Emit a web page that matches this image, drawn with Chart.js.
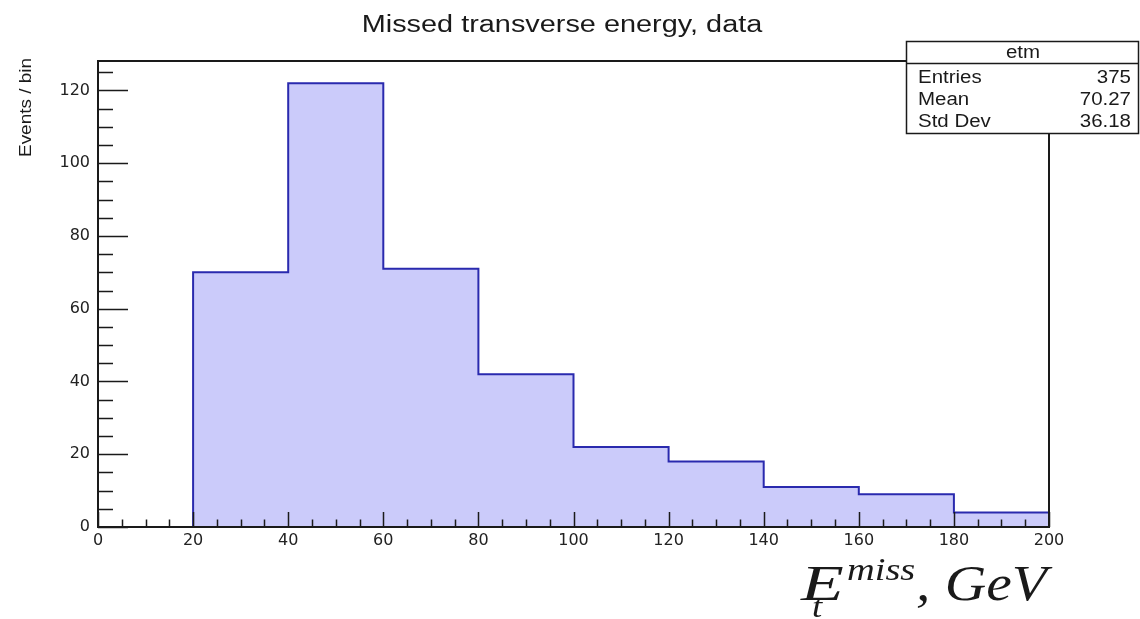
<!DOCTYPE html>
<html>
<head>
<meta charset="utf-8">
<script src="https://cdn.jsdelivr.net/npm/chart.js@4"></script>
<style>
  html, body { margin: 0; padding: 0; background: #fff; }
  #wrap { width: 1140px; height: 619px; }
</style>
</head>
<body>
<div id="wrap"><canvas id="etm" width="1140" height="619"></canvas></div>
<script>
// histogram of missing transverse energy, 20 GeV bins
const binEdges = [20, 40, 60, 80, 100, 120, 140, 160, 180, 200];
const counts = [70, 122, 71, 42, 22, 18, 11, 9, 4];
const statsLabels = ['Entries', 'Mean', 'Std Dev'];
const statsValues = ['375', '70.27', '36.18'];
const xRange = [0, 200];
const yRange = [0, 128.1];

const INK = '#1a1a1a';

// outline of the histogram as a stepped line, closed down to zero at both ends
const points = [{ x: binEdges[0], y: 0 }];
counts.forEach((c, i) => points.push({ x: binEdges[i], y: c }));
points.push({ x: binEdges[binEdges.length - 1], y: counts[counts.length - 1] });
points.push({ x: binEdges[binEdges.length - 1], y: 0 });

// the picture is stretched sideways, so text is drawn with a horizontal scale
function stretchText(ctx, str, x, y, font, sx, align) {
  ctx.save();
  ctx.font = font;
  ctx.textBaseline = 'alphabetic';
  const w = ctx.measureText(str).width * sx;
  let left = x;
  if (align === 'center') left = x - w / 2;
  else if (align === 'right') left = x - w;
  ctx.translate(left, y);
  ctx.scale(sx, 1);
  ctx.textAlign = 'left';
  ctx.fillText(str, 0, 0);
  ctx.restore();
  return w;
}

// ROOT style: inward ticks, major every 20, minor every 5
const rootAxes = {
  id: 'rootAxes',
  afterDatasetsDraw(chart) {
    const { ctx, chartArea: a, scales } = chart;
    ctx.save();
    ctx.strokeStyle = INK;
    ctx.lineWidth = 1.5;
    ctx.beginPath();
    for (let v = yRange[0]; v <= yRange[1]; v += 5) {
      const py = Math.round(scales.y.getPixelForValue(v)) + 0.5;
      const len = v % 20 === 0 ? 30 : 15;
      ctx.moveTo(a.left, py);
      ctx.lineTo(a.left + len, py);
    }
    for (let v = xRange[0]; v <= xRange[1]; v += 5) {
      const px = Math.round(scales.x.getPixelForValue(v)) + 0.5;
      const len = v % 20 === 0 ? 15 : 7.5;
      ctx.moveTo(px, a.bottom);
      ctx.lineTo(px, a.bottom - len);
    }
    ctx.stroke();
    // frame
    ctx.lineWidth = 2;
    ctx.strokeRect(a.left, a.top, a.right - a.left, a.bottom - a.top);
    ctx.restore();
  },
  afterDraw(chart) {
    const { ctx } = chart;
    ctx.save();
    ctx.fillStyle = INK;

    // title
    stretchText(ctx, 'Missed transverse energy, data', 562, 32,
      '23px "Liberation Sans", Arial, sans-serif', 1.255, 'center');

    // y axis title, rotated, aligned to the top of the axis
    ctx.save();
    ctx.translate(31, 157);
    ctx.rotate(-Math.PI / 2);
    ctx.font = '16px "Liberation Sans", Arial, sans-serif';
    const yt = 'Events / bin';
    const k = 99 / ctx.measureText(yt).width;
    ctx.scale(k, 1);
    ctx.fillText(yt, 0, 0);
    ctx.restore();

    // stats box
    const bx = 906.5, by = 41.5, bw = 232, bh = 92;
    ctx.fillStyle = '#fff';
    ctx.fillRect(bx, by, bw, bh);
    ctx.strokeStyle = INK;
    ctx.lineWidth = 1.5;
    ctx.strokeRect(bx, by, bw, bh);
    ctx.beginPath();
    ctx.moveTo(bx, 63.5);
    ctx.lineTo(bx + bw, 63.5);
    ctx.stroke();
    ctx.fillStyle = INK;
    const sf = '17.5px "Liberation Sans", Arial, sans-serif';
    stretchText(ctx, 'etm', 1023, 58, sf, 1.17, 'center');
    const rowY = [83, 105, 127];
    statsLabels.forEach((lab, i) => {
      stretchText(ctx, lab, 918, rowY[i], sf, 1.17, 'left');
      stretchText(ctx, statsValues[i], 1131, rowY[i], sf, 1.17, 'right');
    });

    // x axis label E_t^miss, GeV
    const big = 'italic 50px "Liberation Serif", "DejaVu Serif", serif';
    const small = 'italic 32px "Liberation Serif", "DejaVu Serif", serif';
    stretchText(ctx, 'E', 801, 600, big, 1.4, 'left');
    stretchText(ctx, 'miss', 847, 580, small, 1.2, 'left');
    stretchText(ctx, 't', 812, 617, small, 1.15, 'left');
    stretchText(ctx, ', GeV', 916, 600, big, 1.15, 'left');
    ctx.restore();
  }
};

const tickFont = { family: '"DejaVu Sans", sans-serif', size: 16 };

new Chart(document.getElementById('etm'), {
  type: 'line',
  data: {
    datasets: [{
      label: 'etm',
      data: points,
      stepped: true,
      fill: 'origin',
      backgroundColor: 'rgb(203, 203, 250)',
      borderColor: '#2a2aae',
      borderWidth: 2,
      pointRadius: 0,
      tension: 0,
    }],
  },
  options: {
    responsive: false,
    devicePixelRatio: 1,
    animation: false,
    layout: { padding: { top: 61, right: 91, bottom: 62, left: 0 } },
    plugins: {
      legend: { display: false },
      tooltip: { enabled: false },
      title: { display: false },
    },
    scales: {
      x: {
        type: 'linear',
        min: xRange[0],
        max: xRange[1],
        grid: { display: false, drawTicks: false },
        border: { display: false },
        ticks: { stepSize: 20, color: '#222', font: tickFont, padding: 4, maxRotation: 0 },
        afterFit: s => { s.height = 30; },
      },
      y: {
        min: yRange[0],
        max: yRange[1],
        grid: { display: false, drawTicks: false },
        border: { display: false },
        ticks: { stepSize: 20, includeBounds: false, color: '#222', font: tickFont, padding: 8 },
        afterFit: s => { s.width = 98; },
      },
    },
  },
  plugins: [rootAxes],
});
</script>
</body>
</html>
